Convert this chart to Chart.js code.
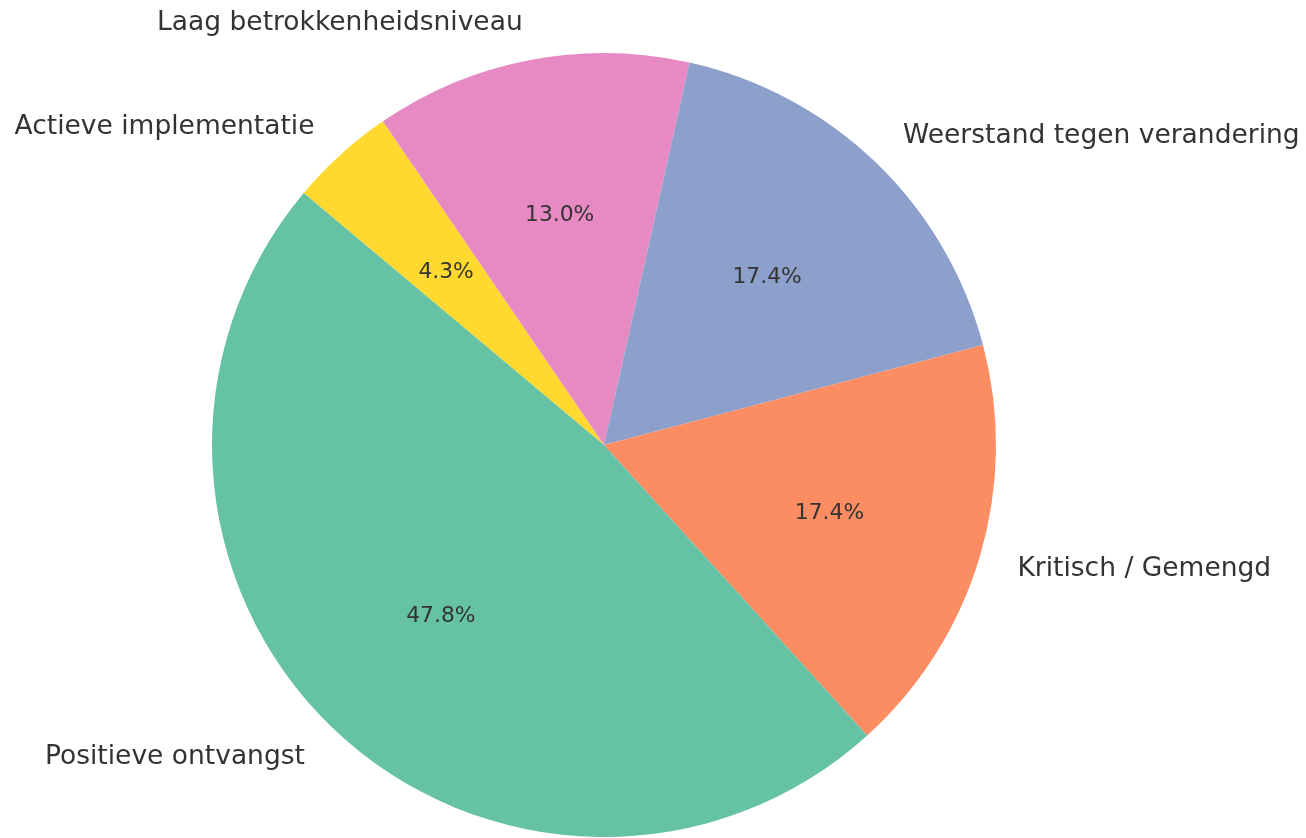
<!DOCTYPE html>
<html>
<head>
<meta charset="utf-8">
<script src="https://cdn.jsdelivr.net/npm/chart.js@4/dist/chart.umd.min.js"></script>
<style>
  html, body { margin: 0; padding: 0; background: #ffffff; }
  #wrap { width: 1306px; height: 838px; position: relative; }
</style>
</head>
<body>
<div id="wrap"><canvas id="pie" width="1306" height="838"></canvas></div>
<script>
// Categories in clockwise drawing order
const categories = [
  'Actieve implementatie',
  'Laag betrokkenheidsniveau',
  'Weerstand tegen verandering',
  'Kritisch / Gemengd',
  'Positieve ontvangst'
];
const counts = [1, 3, 4, 4, 11];
const sliceColors = ['#ffd92f', '#e78ac3', '#8da0cb', '#fc8d62', '#66c2a5'];

const TEXT_COLOR = '#333333';
const FONT = '"DejaVu Sans", sans-serif';

// Draws the category names outside the pie and the percentages inside each slice
const sliceLabels = {
  id: 'sliceLabels',
  afterDatasetsDraw(chart) {
    const ctx = chart.ctx;
    const meta = chart.getDatasetMeta(0);
    const total = counts.reduce((a, b) => a + b, 0);
    ctx.save();
    ctx.fillStyle = TEXT_COLOR;
    meta.data.forEach((arc, i) => {
      const mid = (arc.startAngle + arc.endAngle) / 2;
      const r = arc.outerRadius;
      const cx = arc.x, cy = arc.y;
      const c = Math.cos(mid), s = Math.sin(mid);

      // percentage at 0.6 r
      ctx.font = '21.8px ' + FONT;
      ctx.textAlign = 'center';
      ctx.textBaseline = 'middle';
      const pct = (counts[i] / total * 100).toFixed(1) + '%';
      ctx.fillText(pct, cx + 0.6 * r * c, cy + 0.6 * r * s + 1.5);

      // category name at 1.1 r
      ctx.font = '26.5px ' + FONT;
      ctx.textAlign = c >= 0 ? 'left' : 'right';
      ctx.fillText(categories[i], cx + 1.1 * r * c, cy + 1.1 * r * s + 1.5);
    });
    ctx.restore();
  }
};

new Chart(document.getElementById('pie'), {
  type: 'pie',
  data: {
    labels: categories,
    datasets: [{
      data: counts,
      backgroundColor: sliceColors,
      borderWidth: 0,
      hoverOffset: 0
    }]
  },
  options: {
    responsive: false,
    animation: false,
    rotation: -50,
    layout: { padding: { top: 53, bottom: 1, left: 212, right: 310 } },
    plugins: {
      legend: { display: false },
      tooltip: { enabled: false }
    }
  },
  plugins: [sliceLabels]
});
</script>
</body>
</html>
